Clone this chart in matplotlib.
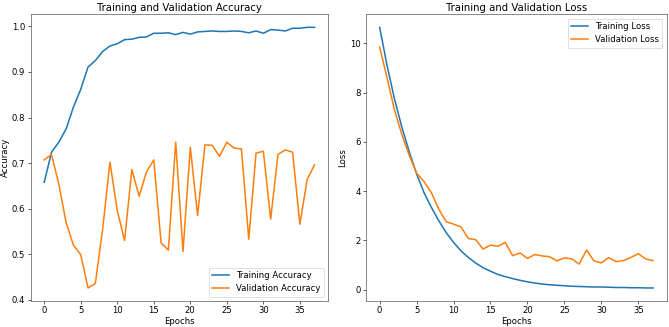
import matplotlib
matplotlib.use('Agg')
import matplotlib.pyplot as plt

# Epoch values
epochs = list(range(38))

train_acc = [0.658, 0.724, 0.746, 0.775, 0.823, 0.862, 0.911, 0.925, 0.945, 0.957,
             0.962, 0.971, 0.972, 0.976, 0.977, 0.985, 0.985, 0.986, 0.982, 0.987,
             0.983, 0.988, 0.989, 0.990, 0.989, 0.989, 0.990, 0.989, 0.986, 0.990,
             0.985, 0.993, 0.992, 0.990, 0.996, 0.996, 0.998, 0.998]

val_acc = [0.707, 0.719, 0.654, 0.569, 0.520, 0.499, 0.426, 0.436, 0.555, 0.702,
           0.596, 0.530, 0.686, 0.627, 0.681, 0.707, 0.525, 0.509, 0.746, 0.506,
           0.735, 0.585, 0.740, 0.739, 0.715, 0.746, 0.733, 0.731, 0.533, 0.722,
           0.726, 0.577, 0.719, 0.729, 0.724, 0.566, 0.664, 0.696]

train_loss = [10.65, 9.10, 7.75, 6.60, 5.60, 4.70, 3.94, 3.34, 2.80, 2.32,
              1.92, 1.58, 1.31, 1.08, 0.89, 0.75, 0.62, 0.53, 0.45, 0.38,
              0.32, 0.27, 0.23, 0.20, 0.18, 0.16, 0.14, 0.13, 0.12, 0.11,
              0.11, 0.10, 0.09, 0.09, 0.08, 0.08, 0.07, 0.07]

val_loss = [9.85, 8.60, 7.30, 6.30, 5.45, 4.73, 4.39, 3.94, 3.27, 2.76,
            2.66, 2.55, 2.08, 2.03, 1.65, 1.81, 1.76, 1.92, 1.38, 1.49,
            1.27, 1.43, 1.37, 1.34, 1.17, 1.29, 1.25, 1.04, 1.61, 1.17,
            1.09, 1.30, 1.14, 1.18, 1.31, 1.46, 1.25, 1.18]

plt.rcParams['font.size'] = 11
plt.rcParams['lines.linewidth'] = 2
plt.rcParams['axes.edgecolor'] = '#444444'

fig = plt.figure(figsize=(12, 327 / 55.75), dpi=55.75)

ax1 = fig.add_axes([30.7 / 669, 26 / 327, 297.3 / 669, 286.7 / 327])
ax1.plot(epochs, train_acc, label='Training Accuracy')
ax1.plot(epochs, val_acc, label='Validation Accuracy')
ax1.set_title('Training and Validation Accuracy', fontsize=13, pad=4)
ax1.set_xlabel('Epochs', labelpad=2)
ax1.set_ylabel('Accuracy', labelpad=3)
ax1.legend(loc='lower right')

ax2 = fig.add_axes([366 / 669, 26 / 327, 300.7 / 669, 286.7 / 327])
ax2.plot(epochs, train_loss, label='Training Loss')
ax2.plot(epochs, val_loss, label='Validation Loss')
ax2.set_title('Training and Validation Loss', fontsize=13, pad=4)
ax2.set_xlabel('Epochs', labelpad=2)
ax2.set_ylabel('Loss', labelpad=3)
ax2.legend(loc='upper right')

fig.savefig('out.png', dpi=55.75)
